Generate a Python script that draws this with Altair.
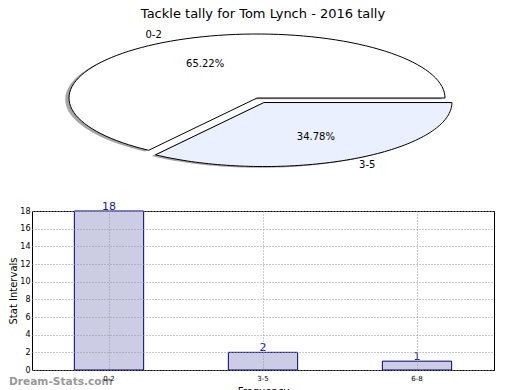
import altair as alt
import pandas as pd

TITLE = "Tackle tally for Tom Lynch - 2016 tally"

PIE_LABELS = ["0-2", "3-5"]
PIE_VALUES = [65.22, 34.78]

BAR_CATS = ["0-2", "3-5", "6-8"]
BAR_VALUES = [18, 2, 1]
Y_TICKS = [0, 2, 4, 6, 8, 10, 12, 14, 16, 18]
WATERMARK = "Dream-Stats.com"

# ---- styles / layout ----
PIE_COLORS = ["#ffffff", "#eaf0fd"]
PIE_EXPLODE = [0.0, 0.08]
N_SEG = 90
FONT = "DejaVu Sans"

W = 462
PIE_H = 150
BAR_H = 159
X_DOM = [-1.1968, 1.2606]
Y_DOM = [-1.2344, 1.1094]

pie_df = pd.DataFrame({
    "label": PIE_LABELS,
    "value": PIE_VALUES,
    "idx": list(range(len(PIE_LABELS))),
    "explode": PIE_EXPLODE,
})
bar_df = pd.DataFrame({"cat": BAR_CATS, "v": BAR_VALUES})

xs = alt.Scale(domain=X_DOM, nice=False, zero=False)
ys = alt.Scale(domain=Y_DOM, nice=False, zero=False)

slices = (
    alt.Chart(pie_df)
    .transform_joinaggregate(total="sum(value)")
    .transform_window(cum="sum(value)", sort=[alt.SortField("idx")], frame=[None, 0])
    .transform_calculate(
        a0="2*PI*(datum.cum - datum.value)/datum.total",
        a1="2*PI*datum.cum/datum.total",
    )
    .transform_calculate(
        mid="(datum.a0 + datum.a1)/2",
        pct="format(100*datum.value/datum.total, '.2f') + '%'",
    )
    .transform_calculate(
        cx="datum.explode*cos(datum.mid)",
        cy="datum.explode*sin(datum.mid)",
    )
    .transform_calculate(
        lx="datum.cx + 1.1*cos(datum.mid)",
        ly="datum.cy + 1.1*sin(datum.mid)",
        tx="datum.cx + 0.6*cos(datum.mid)",
        ty="datum.cy + 0.6*sin(datum.mid)",
    )
)

poly = (
    slices.transform_calculate(k=f"sequence(0, {N_SEG + 3})")
    .transform_flatten(["k"])
    .transform_calculate(
        ang=f"datum.a0 + (datum.a1 - datum.a0)*clamp(datum.k - 1, 0, {N_SEG})/{N_SEG}",
        ctr=f"datum.k == 0 || datum.k == {N_SEG + 2}",
    )
    .transform_calculate(
        px="datum.cx + (datum.ctr ? 0 : cos(datum.ang))",
        py="datum.cy + (datum.ctr ? 0 : sin(datum.ang))",
    )
    .transform_calculate(sx="datum.px - 0.02", sy="datum.py - 0.02")
)

shadow = poly.mark_line(fill="#4d4d4d", fillOpacity=0.5, strokeOpacity=0).encode(
    x=alt.X("sx:Q", scale=xs, axis=None),
    y=alt.Y("sy:Q", scale=ys, axis=None),
    detail="label:N",
    order="k:Q",
)
wedges = poly.mark_line(stroke="black", strokeWidth=1, strokeJoin="miter").encode(
    x=alt.X("px:Q", scale=xs, axis=None),
    y=alt.Y("py:Q", scale=ys, axis=None),
    fill=alt.Fill("label:N", scale=alt.Scale(domain=PIE_LABELS, range=PIE_COLORS), legend=None),
    detail="label:N",
    order="k:Q",
)
lab_l = slices.transform_filter("datum.lx < 0").mark_text(
    align="right", baseline="middle", fontSize=10, font=FONT, color="black"
).encode(x=alt.X("lx:Q", scale=xs, axis=None), y=alt.Y("ly:Q", scale=ys, axis=None), text="label:N")
lab_r = slices.transform_filter("datum.lx >= 0").mark_text(
    align="left", baseline="middle", fontSize=10, font=FONT, color="black"
).encode(x=alt.X("lx:Q", scale=xs, axis=None), y=alt.Y("ly:Q", scale=ys, axis=None), text="label:N")
pct = slices.mark_text(
    align="center", baseline="middle", fontSize=10, font=FONT, color="black"
).encode(x=alt.X("tx:Q", scale=xs, axis=None), y=alt.Y("ty:Q", scale=ys, axis=None), text="pct:N")

pie = alt.layer(shadow, wedges, lab_l, lab_r, pct).properties(
    width=W,
    height=PIE_H,
    view=alt.ViewBackground(stroke=None),
    title=alt.TitleParams(TITLE, fontSize=13, fontWeight="normal", font=FONT, offset=6),
)

x_axis = alt.Axis(
    title="Frequency", titleFontSize=10, titleFontWeight="normal", titlePadding=5,
    labelAngle=0, labelFontSize=7, labelPadding=4, ticks=False, domain=False,
    grid=True, gridDash=[1, 2], gridColor="#999999", bandPosition=0.5, zindex=1,
)
y_axis = alt.Axis(
    title="Stat Intervals", titleFontSize=10, titleFontWeight="normal", titlePadding=1,
    values=Y_TICKS, labelFontSize=8, labelPadding=2, tickSize=0,
    labelOverlap=False, labelBound=False, domain=False,
    grid=True, gridDash=[1, 2], gridColor="#999999", zindex=1,
)
x_scale = alt.Scale(domain=BAR_CATS, paddingInner=0.55, paddingOuter=0.275)
y_scale = alt.Scale(domain=[0, 18], nice=False)

bx = alt.X("cat:N", sort=BAR_CATS, scale=x_scale, axis=x_axis)
by = alt.Y("v:Q", scale=y_scale, axis=y_axis)

bars = alt.Chart(bar_df).mark_bar(fill="#ccccE5", stroke="#000080", strokeWidth=1).encode(x=bx, y=by)
blabels = alt.Chart(bar_df).mark_text(
    baseline="alphabetic", dy=-1, fontSize=11, font=FONT, color="#1a1a8c"
).encode(x=bx, y=by, text="v:Q")
wm = alt.Chart(pd.DataFrame({"t": [WATERMARK]})).mark_text(
    align="left", baseline="alphabetic", fontSize=10.6, font=FONT, fontWeight="bold",
    color="#999999",
).encode(x=alt.value(-23), y=alt.value(BAR_H + 15), text="t:N")

barchart = alt.layer(bars, blabels, wm).properties(
    width=W, height=BAR_H, view=alt.ViewBackground(stroke="black", strokeWidth=1)
)

chart = (
    alt.vconcat(pie, barchart, spacing=23)
    .properties(padding=0)
    .configure(font=FONT)
    .configure_axis(labelFont=FONT, titleFont=FONT, labelColor="black", titleColor="black")
)

chart.save("out.html", embed_options={"renderer": "svg", "actions": False})
